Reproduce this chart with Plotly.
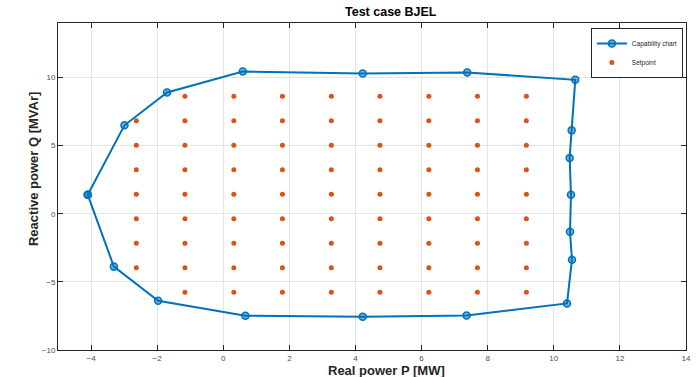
import plotly.graph_objects as go

# Capability chart boundary (P [MW], Q [MVAr])
cap_p = [-4.10, -2.99, -1.70, 0.59, 4.22, 7.38, 10.65, 10.54, 10.48, 10.52,
         10.49, 10.55, 10.40, 7.36, 4.22, 0.67, -1.97, -3.31, -4.10]
cap_q = [1.39, 6.49, 8.90, 10.44, 10.29, 10.37, 9.83, 6.12, 4.10, 1.39,
         -1.32, -3.37, -6.58, -7.46, -7.56, -7.48, -6.39, -3.88, 1.39]

# Setpoint grid
sp_cols = [-2.63, -1.16, 0.32, 1.79, 3.27, 4.74, 6.22, 7.69, 9.17]
sp_rows = [8.63, 6.83, 5.03, 3.23, 1.43, -0.37, -2.17, -3.97, -5.77]
# first column lacks the top and bottom rows
first_col_rows = [6.83, 5.03, 3.23, 1.43, -0.37, -2.17, -3.97]

sp_p, sp_q = [], []
for i, p in enumerate(sp_cols):
    rows = first_col_rows if i == 0 else sp_rows
    for q in rows:
        sp_p.append(p)
        sp_q.append(q)

x_ticks = [-4, -2, 0, 2, 4, 6, 8, 10, 12, 14]
y_ticks = [-10, -5, 0, 5, 10]

BLUE = "#0072BD"
ORANGE = "#D95319"

fig = go.Figure()
fig.add_trace(go.Scatter(
    x=cap_p, y=cap_q, mode="lines+markers", name="Capability chart",
    line=dict(color=BLUE, width=2),
    marker=dict(symbol="circle", size=7, color="rgba(0,114,189,0.55)",
                line=dict(color=BLUE, width=1.5)),
))
fig.add_trace(go.Scatter(
    x=sp_p, y=sp_q, mode="markers", name="Setpoint",
    marker=dict(symbol="circle", size=5, color=ORANGE, line=dict(width=0)),
))

axis_common = dict(
    showgrid=True, gridcolor="#e5e5e5", gridwidth=1,
    zeroline=False, showline=True, linecolor="#262626", linewidth=1,
    mirror="ticks", ticks="inside", ticklen=5, tickcolor="#262626",
    tickfont=dict(family="Liberation Sans, Arial", size=8, color="#4d4d4d"),
)

fig.update_xaxes(range=[-5, 14], tickvals=x_ticks, **axis_common)
fig.update_yaxes(range=[-10, 14], tickvals=y_ticks, **axis_common)

fig.update_layout(
    width=700, height=377,
    margin=dict(l=58, r=9, t=23, b=27),
    paper_bgcolor="white", plot_bgcolor="white",
    showlegend=True,
    legend=dict(
        x=0.995, y=0.985, xanchor="right", yanchor="top",
        bgcolor="white", bordercolor="#262626", borderwidth=1,
        font=dict(family="Liberation Sans, Arial", size=6.5, color="#262626"),
        itemwidth=30, tracegroupgap=0,
    ),
    annotations=[
        dict(text="<b>Test case BJEL</b>", xref="paper", yref="paper",
             x=0.53, y=1.0, xanchor="center", yanchor="bottom", yshift=2,
             showarrow=False,
             font=dict(family="Liberation Sans, Arial", size=12.5, color="#000000")),
        dict(text="<b>Real power P [MW]</b>", xref="paper", yref="paper",
             x=0.523, y=0, xanchor="center", yanchor="top", yshift=-11,
             showarrow=False,
             font=dict(family="Liberation Sans, Arial", size=13, color="#262626")),
        dict(text="<b>Reactive power Q [MVAr]</b>", xref="paper", yref="paper",
             x=0, y=0.555, xanchor="right", yanchor="middle", xshift=-15,
             textangle=-90, showarrow=False,
             font=dict(family="Liberation Sans, Arial", size=13, color="#262626")),
    ],
)

fig.write_html("out.html")
